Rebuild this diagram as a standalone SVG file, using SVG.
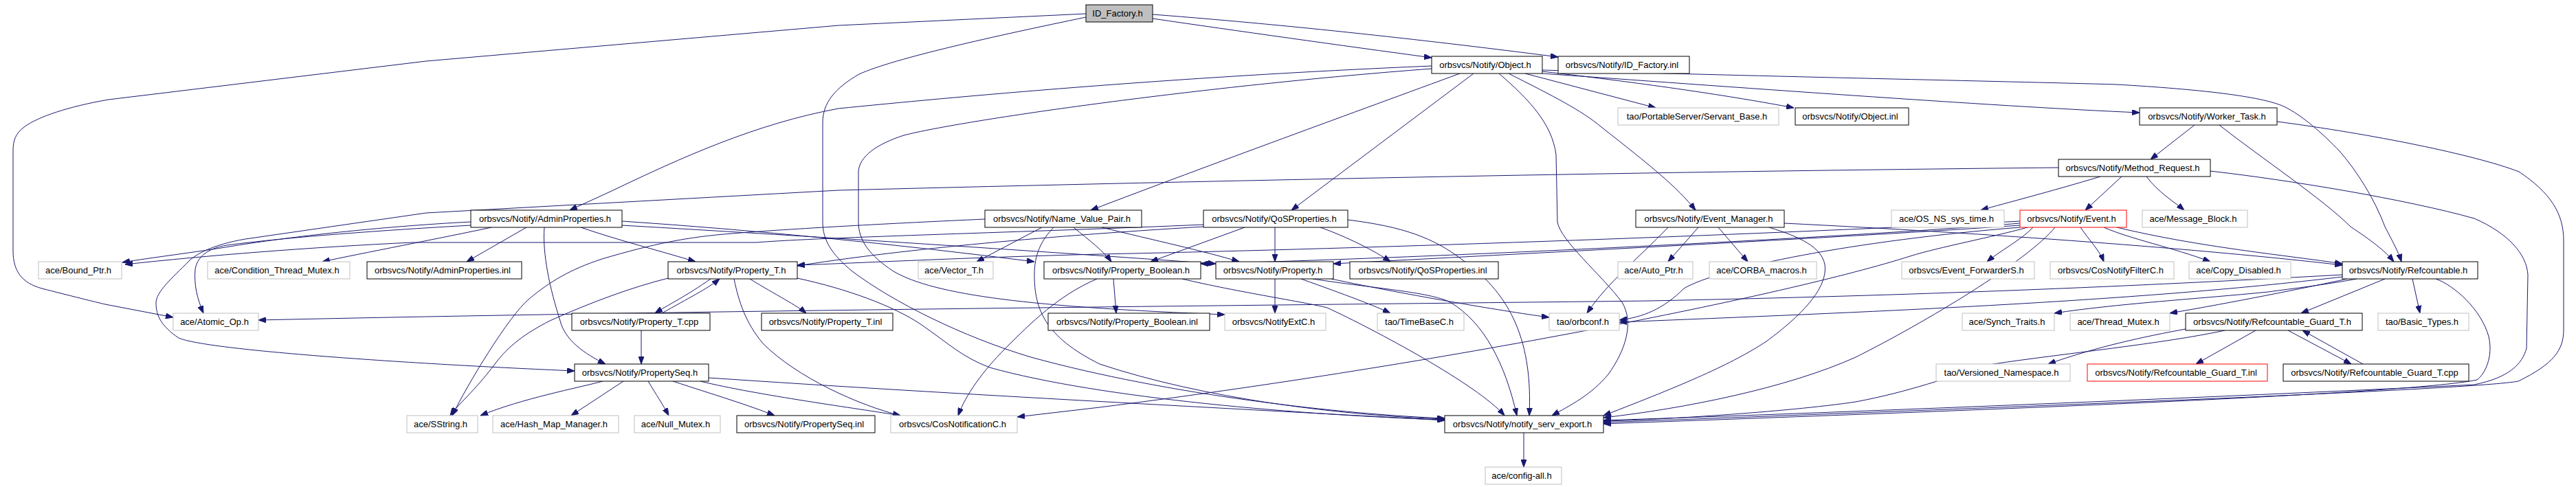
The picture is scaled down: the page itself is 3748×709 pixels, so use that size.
<svg xmlns="http://www.w3.org/2000/svg" width="3748" height="709" viewBox="0 0 3748 709">
<style>
.n rect{fill:#fff;stroke:#000;stroke-width:1}
.g rect{stroke:#bfbfbf}
.r rect{stroke:#f00}
.root rect{fill:#bfbfbf}
text{font-family:"Liberation Sans",Arial,sans-serif;font-size:13px;text-anchor:middle;fill:#000}
#edges path{fill:none;stroke:#191970;stroke-width:1;marker-end:url(#a)}
</style>
<defs>
<marker id="a" markerWidth="11" markerHeight="8" refX="11" refY="4" orient="auto" markerUnits="userSpaceOnUse"><path d="M0,0 L11,4 L0,8 z" fill="#191970" stroke="#191970"/></marker>
</defs>
<rect width="3748" height="709" fill="#fff"/>
<g id="edges">
<path d="M1677,27 C1800,45 1950,66 2083,84"/>
<path d="M1677,21 C1900,38 2120,64 2267,83"/>
<path d="M1580,20 L1220,37 L620,89 L158,145 C100,155 55,170 35,185 C22,195 19,205 19,220 L19,365 C19,395 32,412 61,420 C100,430 140,440 153,443 L252,462"/>
<path d="M1580,25 C1450,52 1300,85 1250,108 C1215,128 1197,150 1197,178 L1197,323 C1197,350 1210,370 1240,395 C1300,440 1400,490 1500,520 C1700,575 1950,603 2102,609"/>
<path d="M2083,96 C1700,112 1380,142 1220,158 C1100,180 990,230 890,278 L829,306"/>
<path d="M2124,107 C1980,160 1760,240 1587,306"/>
<path d="M2144,107 L1879,306"/>
<path d="M2181,107 C2225,145 2258,180 2264,225 L2266,323 C2270,350 2330,400 2360,440 C2378,470 2365,510 2340,545 C2315,575 2285,590 2258,605"/>
<path d="M2195,107 C2260,140 2300,160 2330,185 C2400,240 2440,272 2467,306"/>
<path d="M2219,107 L2409,157"/>
<path d="M2244,104 C2400,122 2520,140 2610,157"/>
<path d="M2244,107 C2500,125 2900,155 3113,164"/>
<path d="M2244,102 C2600,112 2900,118 3080,123 C3200,130 3290,140 3323,155 C3350,168 3380,195 3404,220 C3430,250 3455,290 3470,330 C3483,355 3490,368 3494,381"/>
<path d="M2083,100 C1750,125 1400,175 1315,197 C1275,210 1250,228 1249,250 L1249,323 C1249,350 1265,372 1300,395 C1360,430 1500,447 1782,458"/>
<path d="M685,323 C550,330 420,345 340,358 C280,368 220,375 178,382"/>
<path d="M685,328 C560,335 420,345 330,357 C300,362 287,375 284,392 C282,415 287,435 296,456"/>
<path d="M1751,327 C1500,338 1200,345 1100,353 L600,353 C450,360 300,372 182,385"/>
<path d="M2995,244 C2400,250 1800,262 1220,277 L620,310 L357,348 C310,356 285,370 275,380 C250,405 227,425 227,441 C227,460 235,475 260,492 C300,510 600,530 836,540"/>
<path d="M1433,319 C1300,325 1150,333 1065,340 C1000,345 950,355 876,377 C830,392 800,410 770,435 C740,460 680,560 658,605"/>
<path d="M972,405 C920,418 860,440 800,467 C765,485 740,503 720,530 C690,570 665,590 655,605"/>
<path d="M877,555 C840,565 760,580 699,605"/>
<path d="M907,555 L831,605"/>
<path d="M943,555 C955,575 965,590 973,605"/>
<path d="M979,555 C1040,575 1090,590 1127,605"/>
<path d="M1019,555 C1100,575 1250,595 1310,605"/>
<path d="M1031,550 C1400,575 1800,595 2102,612"/>
<path d="M1034,406 C1000,430 970,445 953,456"/>
<path d="M963,456 C1000,435 1030,420 1047,406"/>
<path d="M1091,406 C1130,430 1160,445 1173,456"/>
<path d="M1068,406 C1075,440 1085,470 1110,500 C1160,550 1250,590 1310,605"/>
<path d="M1160,405 C1230,420 1300,445 1341,473 C1380,500 1400,520 1440,535 C1600,580 1900,605 2102,611"/>
<path d="M933,481 L933,530"/>
<path d="M715,331 C650,345 520,370 469,381"/>
<path d="M766,331 L679,381"/>
<path d="M792,331 C789,370 800,420 815,467 C822,495 850,515 881,530"/>
<path d="M845,331 C900,350 960,365 1012,381"/>
<path d="M905,322 C1100,335 1300,355 1505,381"/>
<path d="M905,328 C1200,345 1500,365 1769,384"/>
<path d="M1516,331 L1421,381"/>
<path d="M1562,331 C1585,350 1605,365 1617,381"/>
<path d="M1603,331 C1680,350 1750,365 1803,381"/>
<path d="M1533,331 C1515,350 1505,370 1505,400 C1505,450 1520,490 1600,530 C1750,580 1950,605 2102,610"/>
<path d="M1751,330 C1500,345 1300,365 1160,387"/>
<path d="M1811,331 L1674,381"/>
<path d="M1855,331 L1855,381"/>
<path d="M1921,331 C1960,345 2000,365 2023,381"/>
<path d="M1961,320 C2040,330 2085,345 2130,380 C2200,430 2230,500 2225,605"/>
<path d="M1620,406 L1624,456"/>
<path d="M1596,406 C1540,430 1500,470 1463,507 C1430,540 1405,575 1394,605"/>
<path d="M1720,406 C1800,425 1900,440 1931,448 C2000,480 2150,560 2189,605"/>
<path d="M1855,406 L1855,456"/>
<path d="M1893,406 C1960,430 2000,445 2023,456"/>
<path d="M1937,406 C2050,430 2200,455 2254,462"/>
<path d="M1910,406 C2000,420 2080,425 2110,440 C2160,470 2190,530 2207,605"/>
<path d="M2427,331 C2380,380 2340,410 2309,456"/>
<path d="M2471,331 L2427,381"/>
<path d="M2500,331 L2543,381"/>
<path d="M2574,331 C2620,345 2650,360 2655,385 C2660,420 2620,460 2570,497 C2520,530 2450,560 2333,605"/>
<path d="M2596,325 C2900,340 3200,362 3408,386"/>
<path d="M3087,257 L3034,306"/>
<path d="M3056,257 C2980,280 2920,295 2882,306"/>
<path d="M3123,257 C3140,280 3165,295 3178,306"/>
<path d="M3216,249 C3330,262 3500,290 3600,318 C3650,340 3676,370 3678,400 L3676,507 C3670,530 3650,550 3600,560 C3300,575 2700,600 2333,612"/>
<path d="M3193,182 L3129,232"/>
<path d="M3229,182 C3290,230 3380,290 3420,330 C3450,350 3470,365 3483,381"/>
<path d="M3313,177 C3450,195 3600,225 3665,250 C3710,280 3730,310 3730,350 L3730,480 C3730,510 3715,530 3664,555 C3600,567 3000,590 2333,615"/>
<path d="M2958,331 C2940,350 2910,365 2891,381"/>
<path d="M3027,331 C3040,350 3055,365 3061,381"/>
<path d="M3061,331 C3100,348 3160,360 3216,381"/>
<path d="M3080,331 C3200,360 3330,372 3408,384"/>
<path d="M2950,331 C2900,345 2820,360 2779,373 C2600,430 2100,530 1600,593 L1480,607"/>
<path d="M2939,322 C2600,340 2000,362 1600,370 C1400,375 1250,383 1160,386"/>
<path d="M2939,325 C2700,345 2100,375 1747,384"/>
<path d="M2939,328 C2700,345 2200,370 1940,384"/>
<path d="M2939,331 C2700,350 2500,390 2450,420 C2420,450 2390,462 2356,466"/>
<path d="M2990,331 C2950,380 2800,470 2700,520 C2600,565 2450,595 2333,608"/>
<path d="M3470,406 L3348,456"/>
<path d="M3510,406 L3521,456"/>
<path d="M3429,406 C3380,415 3336,420 3300,425 C3200,435 3080,442 2989,456"/>
<path d="M3415,406 C3350,420 3250,440 3157,456"/>
<path d="M3408,400 C3100,417 2800,430 2400,438 C1800,445 1000,452 376,466"/>
<path d="M3408,403 C3100,440 2700,455 2356,469"/>
<path d="M3544,406 C3570,415 3610,450 3621,490 C3628,520 3615,545 3604,553 C3500,575 2800,600 2333,617"/>
<path d="M3282,481 L3195,530"/>
<path d="M3329,481 L3421,530"/>
<path d="M3438,530 L3350,481"/>
<path d="M3180,479 C3120,490 3050,505 2980,530"/>
<path d="M3237,481 C3150,500 3000,515 2900,530 C2830,550 2780,570 2700,585 C2600,600 2400,612 2333,613"/>
<path d="M2217,630 L2217,680"/>
</g>
<g id="n_idf" class="n root"><rect x="1580" y="7" width="97" height="25"/><text x="1626" y="24">ID_Factory.h</text></g>
<g id="n_obj" class="n"><rect x="2083" y="82" width="161" height="25"/><text x="2161" y="99">orbsvcs/Notify/Object.h</text></g>
<g id="n_idfi" class="n"><rect x="2267" y="82" width="191" height="25"/><text x="2360" y="99">orbsvcs/Notify/ID_Factory.inl</text></g>
<g id="n_sb" class="n g"><rect x="2354" y="157" width="234" height="25"/><text x="2469" y="174">tao/PortableServer/Servant_Base.h</text></g>
<g id="n_obji" class="n"><rect x="2612" y="157" width="165" height="25"/><text x="2692" y="174">orbsvcs/Notify/Object.inl</text></g>
<g id="n_wt" class="n"><rect x="3113" y="157" width="200" height="25"/><text x="3211" y="174">orbsvcs/Notify/Worker_Task.h</text></g>
<g id="n_mr" class="n"><rect x="2995" y="232" width="221" height="25"/><text x="3103" y="249">orbsvcs/Notify/Method_Request.h</text></g>
<g id="n_ap" class="n"><rect x="685" y="306" width="220" height="25"/><text x="793" y="323">orbsvcs/Notify/AdminProperties.h</text></g>
<g id="n_nvp" class="n"><rect x="1433" y="306" width="228" height="25"/><text x="1545" y="323">orbsvcs/Notify/Name_Value_Pair.h</text></g>
<g id="n_qos" class="n"><rect x="1751" y="306" width="210" height="25"/><text x="1854" y="323">orbsvcs/Notify/QoSProperties.h</text></g>
<g id="n_em" class="n"><rect x="2380" y="306" width="216" height="25"/><text x="2486" y="323">orbsvcs/Notify/Event_Manager.h</text></g>
<g id="n_ost" class="n g"><rect x="2752" y="306" width="164" height="25"/><text x="2832" y="323">ace/OS_NS_sys_time.h</text></g>
<g id="n_ev" class="n r"><rect x="2939" y="306" width="155" height="25"/><text x="3014" y="323">orbsvcs/Notify/Event.h</text></g>
<g id="n_mb" class="n g"><rect x="3117" y="306" width="153" height="25"/><text x="3191" y="323">ace/Message_Block.h</text></g>
<g id="n_bp" class="n g"><rect x="56" y="381" width="121" height="25"/><text x="114" y="398">ace/Bound_Ptr.h</text></g>
<g id="n_ctm" class="n g"><rect x="302" y="381" width="207" height="25"/><text x="403" y="398">ace/Condition_Thread_Mutex.h</text></g>
<g id="n_api" class="n"><rect x="534" y="381" width="225" height="25"/><text x="644" y="398">orbsvcs/Notify/AdminProperties.inl</text></g>
<g id="n_pt" class="n"><rect x="972" y="381" width="188" height="25"/><text x="1064" y="398">orbsvcs/Notify/Property_T.h</text></g>
<g id="n_vt" class="n g"><rect x="1336" y="381" width="109" height="25"/><text x="1388" y="398">ace/Vector_T.h</text></g>
<g id="n_pb" class="n"><rect x="1519" y="381" width="228" height="25"/><text x="1631" y="398">orbsvcs/Notify/Property_Boolean.h</text></g>
<g id="n_p" class="n"><rect x="1769" y="381" width="171" height="25"/><text x="1852" y="398">orbsvcs/Notify/Property.h</text></g>
<g id="n_qosi" class="n"><rect x="1964" y="381" width="216" height="25"/><text x="2070" y="398">orbsvcs/Notify/QoSProperties.inl</text></g>
<g id="n_aup" class="n g"><rect x="2354" y="381" width="109" height="25"/><text x="2406" y="398">ace/Auto_Ptr.h</text></g>
<g id="n_cm" class="n g"><rect x="2487" y="381" width="156" height="25"/><text x="2563" y="398">ace/CORBA_macros.h</text></g>
<g id="n_ef" class="n g"><rect x="2767" y="381" width="193" height="25"/><text x="2861" y="398">orbsvcs/Event_ForwarderS.h</text></g>
<g id="n_cnf" class="n g"><rect x="2983" y="381" width="180" height="25"/><text x="3071" y="398">orbsvcs/CosNotifyFilterC.h</text></g>
<g id="n_cd" class="n g"><rect x="3185" y="381" width="148" height="25"/><text x="3257" y="398">ace/Copy_Disabled.h</text></g>
<g id="n_rc" class="n"><rect x="3408" y="381" width="197" height="25"/><text x="3504" y="398">orbsvcs/Notify/Refcountable.h</text></g>
<g id="n_ao" class="n g"><rect x="252" y="456" width="124" height="25"/><text x="312" y="473">ace/Atomic_Op.h</text></g>
<g id="n_ptc" class="n"><rect x="832" y="456" width="201" height="25"/><text x="930" y="473">orbsvcs/Notify/Property_T.cpp</text></g>
<g id="n_pti" class="n"><rect x="1108" y="456" width="191" height="25"/><text x="1201" y="473">orbsvcs/Notify/Property_T.inl</text></g>
<g id="n_pbi" class="n"><rect x="1525" y="456" width="235" height="25"/><text x="1640" y="473">orbsvcs/Notify/Property_Boolean.inl</text></g>
<g id="n_nec" class="n g"><rect x="1782" y="456" width="147" height="25"/><text x="1853" y="473">orbsvcs/NotifyExtC.h</text></g>
<g id="n_tb" class="n g"><rect x="2004" y="456" width="126" height="25"/><text x="2065" y="473">tao/TimeBaseC.h</text></g>
<g id="n_orb" class="n g"><rect x="2254" y="456" width="102" height="25"/><text x="2303" y="473">tao/orbconf.h</text></g>
<g id="n_st" class="n g"><rect x="2855" y="456" width="134" height="25"/><text x="2920" y="473">ace/Synch_Traits.h</text></g>
<g id="n_tm" class="n g"><rect x="3012" y="456" width="145" height="25"/><text x="3082" y="473">ace/Thread_Mutex.h</text></g>
<g id="n_rgt" class="n"><rect x="3180" y="456" width="257" height="25"/><text x="3306" y="473">orbsvcs/Notify/Refcountable_Guard_T.h</text></g>
<g id="n_bt" class="n g"><rect x="3460" y="456" width="132" height="25"/><text x="3524" y="473">tao/Basic_Types.h</text></g>
<g id="n_ps" class="n"><rect x="836" y="530" width="195" height="25"/><text x="931" y="547">orbsvcs/Notify/PropertySeq.h</text></g>
<g id="n_vn" class="n g"><rect x="2817" y="530" width="195" height="25"/><text x="2912" y="547">tao/Versioned_Namespace.h</text></g>
<g id="n_rgi" class="n r"><rect x="3037" y="530" width="262" height="25"/><text x="3166" y="547">orbsvcs/Notify/Refcountable_Guard_T.inl</text></g>
<g id="n_rgc" class="n"><rect x="3322" y="530" width="270" height="25"/><text x="3455" y="547">orbsvcs/Notify/Refcountable_Guard_T.cpp</text></g>
<g id="n_ss" class="n g"><rect x="592" y="605" width="103" height="25"/><text x="641" y="622">ace/SString.h</text></g>
<g id="n_hmm" class="n g"><rect x="717" y="605" width="183" height="25"/><text x="806" y="622">ace/Hash_Map_Manager.h</text></g>
<g id="n_nm" class="n g"><rect x="923" y="605" width="125" height="25"/><text x="983" y="622">ace/Null_Mutex.h</text></g>
<g id="n_psi" class="n"><rect x="1072" y="605" width="201" height="25"/><text x="1170" y="622">orbsvcs/Notify/PropertySeq.inl</text></g>
<g id="n_cnc" class="n g"><rect x="1296" y="605" width="184" height="25"/><text x="1386" y="622">orbsvcs/CosNotificationC.h</text></g>
<g id="n_nse" class="n"><rect x="2102" y="605" width="231" height="25"/><text x="2215" y="622">orbsvcs/Notify/notify_serv_export.h</text></g>
<g id="n_ca" class="n g"><rect x="2161" y="680" width="111" height="25"/><text x="2214" y="697">ace/config-all.h</text></g>
</svg>
